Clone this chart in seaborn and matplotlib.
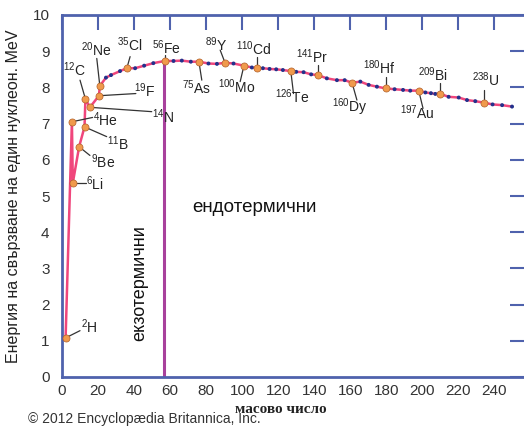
import numpy as np
import pandas as pd
import matplotlib
matplotlib.use("Agg")
import matplotlib.pyplot as plt
import seaborn as sns

# named nuclides (mass number as drawn, binding energy per nucleon, MeV)
iso_names = ["2H", "4He", "6Li", "9Be", "11B", "12C", "14N", "19F", "20Ne", "35Cl",
             "56Fe", "75As", "89Y", "100Mo", "110Cd", "126Te", "141Pr", "160Dy",
             "180Hf", "197Au", "209Bi", "238U"]
iso_mass = [2, 5.5, 6, 9.5, 12.5, 13, 15.5, 20.5, 21, 36,
            57, 76, 90.5, 101, 108, 127, 142, 161, 180, 198, 210, 234]
iso_energy = [1.08, 7.05, 5.36, 6.36, 6.91, 7.68, 7.45, 7.77, 8.04, 8.53,
              8.73, 8.71, 8.68, 8.60, 8.53, 8.45, 8.34, 8.13, 7.97, 7.91, 7.82, 7.58]

# the small blue points between the named ones
dot_mass = [24.4, 27.2, 32.2, 40.6, 45.6, 50.7, 61.9, 66.5, 71.5, 81.3, 86, 95.2,
            105.4, 111.5, 115.2, 118.9, 122.6, 130, 134.1, 138.3, 147, 152.6,
            156.9, 165.6, 170.2, 174.8, 184.6, 189.3, 193.3, 201.7, 204.8, 207.2,
            214.6, 220.2, 224.8, 229.4, 239, 244.3, 249.8]
dot_energy = [8.27, 8.34, 8.45, 8.53, 8.60, 8.67, 8.73, 8.74, 8.71, 8.66, 8.65, 8.66,
              8.55, 8.53, 8.51, 8.50, 8.48, 8.43, 8.42, 8.36, 8.25, 8.20,
              8.20, 8.16, 8.07, 8.02, 7.95, 7.93, 7.91, 7.86, 7.84, 7.82,
              7.74, 7.72, 7.65, 7.62, 7.53, 7.51, 7.47]

x_ticks = list(range(0, 241, 20))
y_ticks = list(range(0, 11))

# label layout: (text x, text y, leader end x, leader end y, ha)
label_pos = {
    "2H": (10.5, 1.4, 10.0, 1.28, "left"),
    "4He": (17.0, 7.1, 17.0, 7.17, "left"),
    "6Li": (13.5, 5.35, 13.5, 5.36, "left"),
    "9Be": (16.0, 5.95, 15.5, 6.12, "left"),
    "11B": (25.0, 6.45, 24.8, 6.64, "left"),
    "12C": (7.0, 8.5, 10.0, 8.2, "center"),
    "14N": (50.0, 7.2, 49.8, 7.33, "left"),
    "19F": (40.0, 7.9, 41.0, 7.83, "left"),
    "20Ne": (19.0, 9.05, 19.3, 8.8, "center"),
    "35Cl": (37.8, 9.18, 37.8, 8.85, "center"),
    "56Fe": (57.8, 9.1, 57.0, 8.9, "center"),
    "75As": (74.5, 7.98, 77.6, 8.2, "center"),
    "89Y": (85.5, 9.18, 87.8, 9.03, "center"),
    "100Mo": (97.0, 8.02, 98.9, 8.16, "center"),
    "110Cd": (106.7, 9.08, 108.0, 8.85, "center"),
    "126Te": (127.5, 7.74, 128.5, 7.83, "center"),
    "141Pr": (139.0, 8.84, 142.0, 8.62, "center"),
    "160Dy": (160.0, 7.44, 163.7, 7.65, "center"),
    "180Hf": (176.0, 8.55, 180.0, 8.3, "center"),
    "197Au": (197.0, 7.3, 200.4, 7.42, "center"),
    "209Bi": (206.0, 8.36, 210.0, 8.11, "center"),
    "238U": (235.5, 8.22, 234.0, 7.93, "center"),
}

AXIS_BLUE = "#4f62ad"
PINK = "#f0467c"
ORANGE = "#f09a4c"
DOT_BLUE = "#23318c"
PURPLE = "#a8419c"

sns.set_theme(style="white")
plt.rcParams["font.family"] = ["Liberation Sans", "DejaVu Sans"]
plt.rcParams["mathtext.fontset"] = "custom"
plt.rcParams["mathtext.rm"] = "Liberation Sans"

iso_df = pd.DataFrame({"mass": iso_mass, "energy": iso_energy, "name": iso_names})
dot_df = pd.DataFrame({"mass": dot_mass, "energy": dot_energy})
curve = pd.concat([iso_df[["mass", "energy"]], dot_df]).sort_values("mass")

fig = plt.figure(figsize=(5.24, 4.26), dpi=100)
ax = fig.add_axes([62 / 524, 49 / 426, 463 / 524, 362 / 426])

# exothermic / endothermic border at iron
fe = iso_df[iso_df["name"] == "56Fe"].iloc[0]
ax.vlines(fe["mass"] - 0.2, 0, fe["energy"], color=PURPLE, lw=2.2, zorder=1)

sns.lineplot(data=curve, x="mass", y="energy", color=PINK, lw=1.8,
             sort=False, ax=ax, zorder=2)
sns.scatterplot(data=dot_df, x="mass", y="energy", color=DOT_BLUE, s=8,
                edgecolor="none", ax=ax, zorder=3)
sns.scatterplot(data=iso_df, x="mass", y="energy", color=ORANGE, s=26,
                edgecolor="#b0602a", linewidth=0.5, ax=ax, zorder=4)

for name, m, e in zip(iso_names, iso_mass, iso_energy):
    tx, ty, lx, ly, ha = label_pos[name]
    ax.plot([m, lx], [e, ly], color="#333333", lw=0.9, zorder=2.5)
    num = "".join(c for c in name if c.isdigit())
    sym = name[len(num):]
    ax.text(tx, ty, r"$^{\mathrm{%s}}$%s" % (num, sym), ha=ha, va="center",
            fontsize=10, color="#222222")

ax.text(106.7, 4.67, "ендотермични", ha="center", va="center", fontsize=13.5,
        color="#111111")
ax.text(43.3, 2.6, "екзотермични", ha="center", va="center", rotation=90,
        fontsize=13, color="#111111")

ax.set_xlim(0, 257)
ax.set_ylim(0, 10)
ax.set_xticks(x_ticks)
ax.set_yticks(y_ticks)
ax.tick_params(axis="both", direction="in", length=11, width=1.5,
               color=AXIS_BLUE, labelsize=11, labelcolor="#333333",
               top=True, right=True, pad=5)
ax.tick_params(axis="y", pad=9)
for sp in ax.spines.values():
    sp.set_color(AXIS_BLUE)
    sp.set_linewidth(2)

ax.set_ylabel("Енергия на свързване на един нуклеон. MeV", fontsize=11.5,
              color="#222222", labelpad=8)
ax.set_xlabel("масово число", fontsize=11, fontfamily="Liberation Serif",
              fontweight="bold", color="#222222")
ax.xaxis.set_label_coords((281 - 62) / 463, -0.071)

fig.text(28 / 524, 1 - 419 / 426, "© 2012 Encyclopædia Britannica, Inc.",
         fontsize=10, color="#333333", va="center", ha="left")

fig.savefig("out.png", dpi=100)
